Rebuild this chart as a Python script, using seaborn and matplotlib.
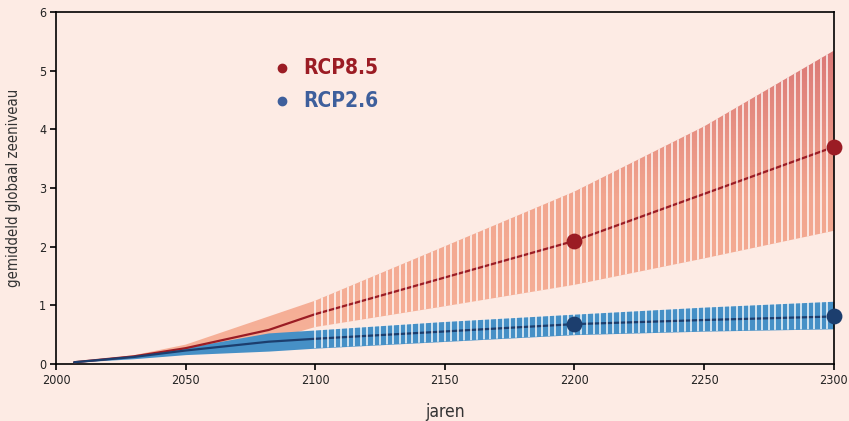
import matplotlib
matplotlib.use("Agg")
import matplotlib.pyplot as plt
import numpy as np
import pandas as pd
import seaborn as sns
from matplotlib.colors import LinearSegmentedColormap

# --- data ---
years = [2007, 2030, 2050, 2082, 2100, 2148, 2200, 2250, 2300]
rcp85_med = [0.03, 0.13, 0.27, 0.58, 0.85, 1.45, 2.10, 2.90, 3.70]
rcp85_lo = [0.03, 0.10, 0.18, 0.40, 0.63, 0.97, 1.35, 1.80, 2.27]
rcp85_hi = [0.03, 0.15, 0.33, 0.81, 1.08, 1.97, 2.94, 4.05, 5.34]
rcp26_med = [0.03, 0.12, 0.23, 0.38, 0.43, 0.55, 0.68, 0.75, 0.81]
rcp26_lo = [0.03, 0.09, 0.16, 0.22, 0.27, 0.38, 0.50, 0.56, 0.60]
rcp26_hi = [0.03, 0.14, 0.28, 0.53, 0.58, 0.72, 0.85, 0.97, 1.07]
marker_years = [2200, 2300]
rcp85_marks = [2.10, 3.70]
rcp26_marks = [0.68, 0.81]
xticks = [2000, 2050, 2100, 2150, 2200, 2250, 2300]
yticks = [0, 1, 2, 3, 4, 5, 6]

BG = "#FDEBE4"
RED = "#9B1C24"
BLUE_DARK = "#1C3E6E"
BLUE_BAND = "#4690C6"
BLUE_LEG = "#3E5F9C"

sns.set_theme(style="ticks")
plt.rcParams["font.family"] = ["DejaVu Sans"]
plt.rcParams["font.stretch"] = "condensed"

df = pd.DataFrame({
    "jaar": years,
    "rcp85": rcp85_med,
    "rcp26": rcp26_med,
})

fig = plt.figure(figsize=(8.49, 4.21), dpi=100, facecolor=BG)
ax = fig.add_axes([0.066, 0.1354, 0.916, 0.836])
ax.set_facecolor(BG)

# --- bands ---
# red band gets a vertical gradient, clipped to the band outline
red_band = ax.fill_between(years, rcp85_lo, rcp85_hi, color="none", lw=0, zorder=1)
cmap = LinearSegmentedColormap.from_list("rcp85", ["#F7B39A", "#F2A68F", "#D97373"])
grad = np.linspace(0, 1, 256).reshape(-1, 1)
im = ax.imshow(grad, extent=(2000, 2300, 0, 5.6), origin="lower", cmap=cmap,
               aspect="auto", zorder=1, interpolation="bilinear")
im.set_clip_path(red_band.get_paths()[0], transform=ax.transData)

blue_band = ax.fill_between(years, rcp26_lo, rcp26_hi, color=BLUE_BAND, lw=0, zorder=2)

# --- median lines ---
sns.lineplot(data=df, x="jaar", y="rcp85", color=RED, lw=1.6, ax=ax, zorder=3)
sns.lineplot(data=df, x="jaar", y="rcp26", color=BLUE_DARK, lw=1.6, ax=ax, zorder=3)

# white gaps that split the bands into stripes after 2100
gaps = np.arange(2100, 2300, 2.5)
for band in (red_band, blue_band):
    vl = ax.vlines(gaps, 0, 6, colors="white", lw=1.3, alpha=0.8, zorder=4)
    vl.set_clip_path(band.get_paths()[0], transform=ax.transData)

# --- markers ---
sns.scatterplot(x=marker_years, y=rcp85_marks, color=RED, s=130, lw=0, ax=ax, zorder=5)
sns.scatterplot(x=marker_years, y=rcp26_marks, color=BLUE_DARK, s=130, lw=0, ax=ax, zorder=5)
for c in ax.collections[-2:]:
    c.set_clip_on(False)

# legend drawn as text
ax.plot([2087], [5.05], "o", color=RED, ms=6)
ax.plot([2087], [4.48], "o", color=BLUE_LEG, ms=6)
ax.text(2095.5, 5.05, "RCP8.5", color=RED, fontsize=15, fontweight="bold", va="center")
ax.text(2095.5, 4.48, "RCP2.6", color=BLUE_LEG, fontsize=15, fontweight="bold", va="center")

ax.set_xlim(2000, 2300)
ax.set_ylim(0, 6)
ax.set_xticks(xticks)
ax.set_yticks(yticks)
ax.tick_params(axis="both", direction="out", length=4, width=1.2, color="black",
               labelsize=9, labelcolor="#222222", pad=3)
for sp in ax.spines.values():
    sp.set_visible(True)
    sp.set_color("black")
    sp.set_linewidth(1.2)

ax.set_xlabel("jaren", fontsize=12.5, color="#333333", labelpad=12)
ax.set_ylabel("gemiddeld globaal zeeniveau", fontsize=10.7, color="#333333", labelpad=13)

fig.savefig("out.png", dpi=100, facecolor=BG)
